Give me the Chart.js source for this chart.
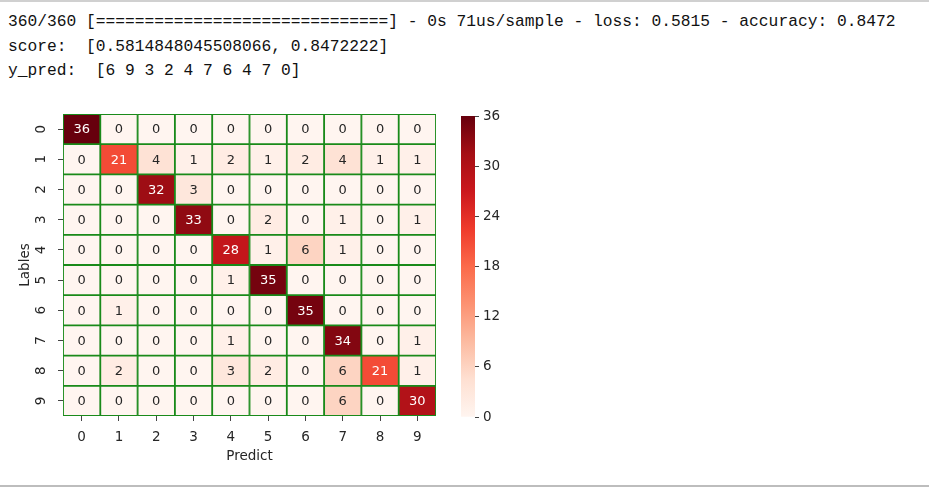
<!DOCTYPE html>
<html lang="en">

<head>
    <meta charset="UTF-8">
    <title>Confusion matrix</title>
    <script src="https://cdn.jsdelivr.net/npm/chart.js"></script>
    <style>
        body { margin: 0; background: #fff; width: 929px; height: 488px; position: relative; overflow: hidden; }
        #topline { position: absolute; left: 0; top: 0; width: 929px; height: 2px; background: #d0d0d0; }
        #bottomline { position: absolute; left: 0; top: 485px; width: 929px; height: 2px; background: #bdbdbd; }
        #log { position: absolute; left: 8px; top: 10px; margin: 0; font: 16.25px "Liberation Mono", monospace; line-height: 24.5px; color: #111; }
        #heat { position: absolute; left: 0; top: 104px; }
        #bar { position: absolute; left: 440px; top: 104px; }
    </style>
</head>

<body>
    <div id="topline"></div>
    <pre id="log"></pre>
    <canvas id="heat" width="445" height="370"></canvas>
    <canvas id="bar" width="80" height="330"></canvas>
    <div id="bottomline"></div>

<script>
    // console output above the plot
    const logLines = [
        '360/360 [==============================] - 0s 71us/sample - loss: 0.5815 - accuracy: 0.8472',
        'score:  [0.5814848045508066, 0.8472222]',
        'y_pred:  [6 9 3 2 4 7 6 4 7 0]'
    ];

    const classes = ['0', '1', '2', '3', '4', '5', '6', '7', '8', '9'];

    // rows = true labels, columns = predicted
    const counts = [
        [36, 0, 0, 0, 0, 0, 0, 0, 0, 0],
        [0, 21, 4, 1, 2, 1, 2, 4, 1, 1],
        [0, 0, 32, 3, 0, 0, 0, 0, 0, 0],
        [0, 0, 0, 33, 0, 2, 0, 1, 0, 1],
        [0, 0, 0, 0, 28, 1, 6, 1, 0, 0],
        [0, 0, 0, 0, 1, 35, 0, 0, 0, 0],
        [0, 1, 0, 0, 0, 0, 35, 0, 0, 0],
        [0, 0, 0, 0, 1, 0, 0, 34, 0, 1],
        [0, 2, 0, 0, 3, 2, 0, 6, 21, 1],
        [0, 0, 0, 0, 0, 0, 0, 6, 0, 30]
    ];

    const vmin = 0;
    const vmax = 36;
    const colorbarStep = 6;

    document.getElementById('log').textContent = logLines.join('\n');

    // matplotlib "Reds"
    const reds = ['#fff5f0', '#fee0d2', '#fcbba1', '#fc9272', '#fb6a4a', '#ef3b2c', '#cb181d', '#a50f15', '#67000d'];

    function hexToRgb(h) {
        return [parseInt(h.slice(1, 3), 16), parseInt(h.slice(3, 5), 16), parseInt(h.slice(5, 7), 16)];
    }

    function redsRgb(t) {
        t = Math.max(0, Math.min(1, t));
        const pos = t * (reds.length - 1);
        const i = Math.min(Math.floor(pos), reds.length - 2);
        const f = pos - i;
        const a = hexToRgb(reds[i]), b = hexToRgb(reds[i + 1]);
        return a.map((v, k) => Math.round(v + (b[k] - v) * f));
    }

    function cellColor(v) {
        const c = redsRgb((v - vmin) / (vmax - vmin));
        return 'rgb(' + c.join(',') + ')';
    }

    // same rule seaborn uses to pick annotation colour
    function luminance(rgb) {
        const l = rgb.map(v => {
            v = v / 255;
            return v <= 0.03928 ? v / 12.92 : Math.pow((v + 0.055) / 1.055, 2.4);
        });
        return 0.2126 * l[0] + 0.7152 * l[1] + 0.0722 * l[2];
    }

    const tickFont = { family: 'DejaVu Sans', size: 13.5 };
    const textColor = '#262626';

    const annotate = {
        id: 'annotate',
        afterDatasetsDraw(chart) {
            const ctx = chart.ctx;
            ctx.save();
            ctx.font = '13px "DejaVu Sans"';
            ctx.textAlign = 'center';
            ctx.textBaseline = 'middle';
            chart.data.datasets.forEach((ds, r) => {
                chart.getDatasetMeta(r).data.forEach((el, c) => {
                    const v = counts[r][c];
                    const p = el.getCenterPoint();
                    ctx.fillStyle = luminance(redsRgb(v / vmax)) > 0.408 ? textColor : '#ffffff';
                    ctx.fillText(String(v), p.x, p.y + 1);
                });
            });
            // rotated y tick labels
            const ys = chart.scales.y;
            ctx.font = '13.5px "DejaVu Sans"';
            ctx.fillStyle = textColor;
            ys.ticks.forEach(t => {
                const py = ys.getPixelForValue(t.value);
                ctx.save();
                ctx.translate(ys.right - 22, py);
                ctx.rotate(-Math.PI / 2);
                ctx.fillText(classes[Math.floor(t.value)], 0, 0);
                ctx.restore();
            });
            ctx.restore();
        }
    };

    new Chart(document.getElementById('heat'), {
        type: 'bar',
        data: {
            labels: classes,
            datasets: counts.map((row, r) => ({
                label: classes[r],
                data: row.map(() => 1),
                backgroundColor: row.map(cellColor),
                borderColor: '#1a8a1a',
                borderWidth: 1.25,
                borderSkipped: false,
                barPercentage: 1,
                categoryPercentage: 1
            }))
        },
        options: {
            responsive: false,
            animation: false,
            layout: { padding: { top: 10, right: 9, left: 0, bottom: 0 } },
            plugins: { legend: { display: false }, tooltip: { enabled: false } },
            scales: {
                x: {
                    stacked: true,
                    afterFit(s) { s.height = 58; },
                    border: { display: false },
                    grid: { offset: false, drawOnChartArea: false, tickLength: 5, color: '#444' },
                    ticks: { font: tickFont, color: textColor, padding: 8, maxRotation: 0 },
                    title: { display: true, text: 'Predict', font: tickFont, color: textColor, padding: { top: 0, bottom: 9 } }
                },
                y: {
                    stacked: true,
                    reverse: true,
                    min: 0,
                    max: classes.length,
                    afterBuildTicks(s) { s.ticks = classes.map((c, i) => ({ value: i + 0.5 })); },
                    afterFit(s) { s.width = 63; },
                    border: { display: false },
                    grid: { drawOnChartArea: false, tickLength: 5, color: '#444' },
                    ticks: { display: false },
                    title: { display: true, text: 'Lables', font: tickFont, color: textColor, padding: { top: 17, bottom: 0 } }
                }
            }
        },
        plugins: [annotate]
    });

    // colour bar
    new Chart(document.getElementById('bar'), {
        type: 'bar',
        data: {
            labels: [''],
            datasets: [{
                data: [vmax],
                barPercentage: 1,
                categoryPercentage: 1,
                backgroundColor(context) {
                    const area = context.chart.chartArea;
                    if (!area) return reds[0];
                    const g = context.chart.ctx.createLinearGradient(0, area.bottom, 0, area.top);
                    reds.forEach((c, i) => g.addColorStop(i / (reds.length - 1), c));
                    return g;
                }
            }]
        },
        options: {
            responsive: false,
            animation: false,
            layout: { padding: { top: 10, left: 21, right: 0, bottom: 17 } },
            plugins: { legend: { display: false }, tooltip: { enabled: false } },
            scales: {
                x: { display: false },
                y: {
                    position: 'right',
                    min: vmin,
                    max: vmax,
                    afterFit(s) { s.width = 45; },
                    border: { display: false },
                    grid: { drawOnChartArea: false, tickLength: 4, color: '#444' },
                    ticks: { stepSize: colorbarStep, font: tickFont, color: textColor, padding: 4 }
                }
            }
        }
    });
</script>
</body>

</html>
